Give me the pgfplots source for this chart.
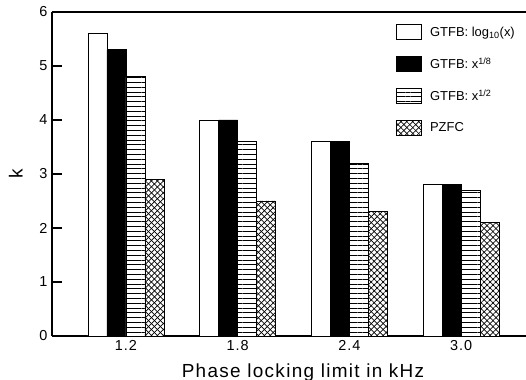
\documentclass[border=0pt]{standalone}
\usepackage{fontspec}
\setmainfont{Liberation Sans}[LetterSpace=7]
\usepackage{pgfplots}
\pgfplotsset{compat=1.18}
\usetikzlibrary{patterns.meta}

\tikzset{
  hlinefill/.style={fill=white, postaction={pattern={Lines[angle=0,distance=4.8bp,line width=0.8bp]}}},
  xhatchfill/.style={fill=white,
    postaction={pattern={Lines[angle=45,distance=4.2bp,line width=0.7bp]}},
    postaction={pattern={Lines[angle=-45,distance=4.2bp,line width=0.7bp]}}},
}

\begin{document}
\begin{tikzpicture}
\begin{axis}[
  scale only axis,
  width=484bp, height=324bp,
  ybar=0pt, bar width=0.17,
  xmin=-0.662, xmax=3.669,
  ymin=0, ymax=6,
  axis x line*=bottom, axis y line*=left,
  xtick={0,1,2,3},
  xticklabels={1.2,1.8,2.4,3.0},
  ytick={0,1,2,3,4,5,6},
  major x tick style={draw=none},
  tick align=inside,
  major tick length=10bp,
  tick style={line width=1.2bp, black},
  axis line style={line width=1.6bp, black},
  /pgf/number format/assume math mode=true,
  ticklabel style={font=\fontsize{14.5}{16}\selectfont},
  yticklabel style={xshift=-1bp},
  xticklabel style={yshift=-1bp},
  xlabel={Phase\ locking\ limit\ in\ kHz},
  ylabel={k},
  label style={font=\fontsize{19}{22}\selectfont},
  xlabel style={yshift=-6bp, xshift=9bp},
  ylabel style={yshift=10bp},
  legend image code/.code={\draw[#1, line width=0.9bp] (0bp,-7.5bp) rectangle (25bp,7.5bp);},
  legend style={draw=none, fill=none, at={(344bp,312bp)}, anchor=north west,
    inner sep=0pt, row sep=16bp,
    /tikz/every odd column/.append style={column sep=7bp},
    nodes={font=\fontsize{13}{16}\selectfont\addfontfeature{LetterSpace=0}, inner sep=1bp}},
  legend cell align=left,
  every axis plot/.append style={draw=black, line width=0.9bp},
]
\addplot[fill=white] coordinates {(0,5.6) (1,4.0) (2,3.6) (3,2.8)};
\addplot[fill=black] coordinates {(0,5.3) (1,4.0) (2,3.6) (3,2.8)};
\addplot[hlinefill] coordinates {(0,4.8) (1,3.6) (2,3.2) (3,2.7)};
\addplot[xhatchfill] coordinates {(0,2.9) (1,2.5) (2,2.3) (3,2.1)};
\legend{GTFB: log\textsubscript{10}(x), GTFB: x\textsuperscript{1/8}, GTFB: x\textsuperscript{1/2}, PZFC}
% top edge of the frame
\draw[line width=1.6bp] (rel axis cs:0,1) -- (rel axis cs:1,1);
\end{axis}
\pgfresetboundingbox
\path (current axis.south west) ++(-52bp,-44bp) rectangle ++(526bp,380bp);
\end{tikzpicture}
\end{document}
